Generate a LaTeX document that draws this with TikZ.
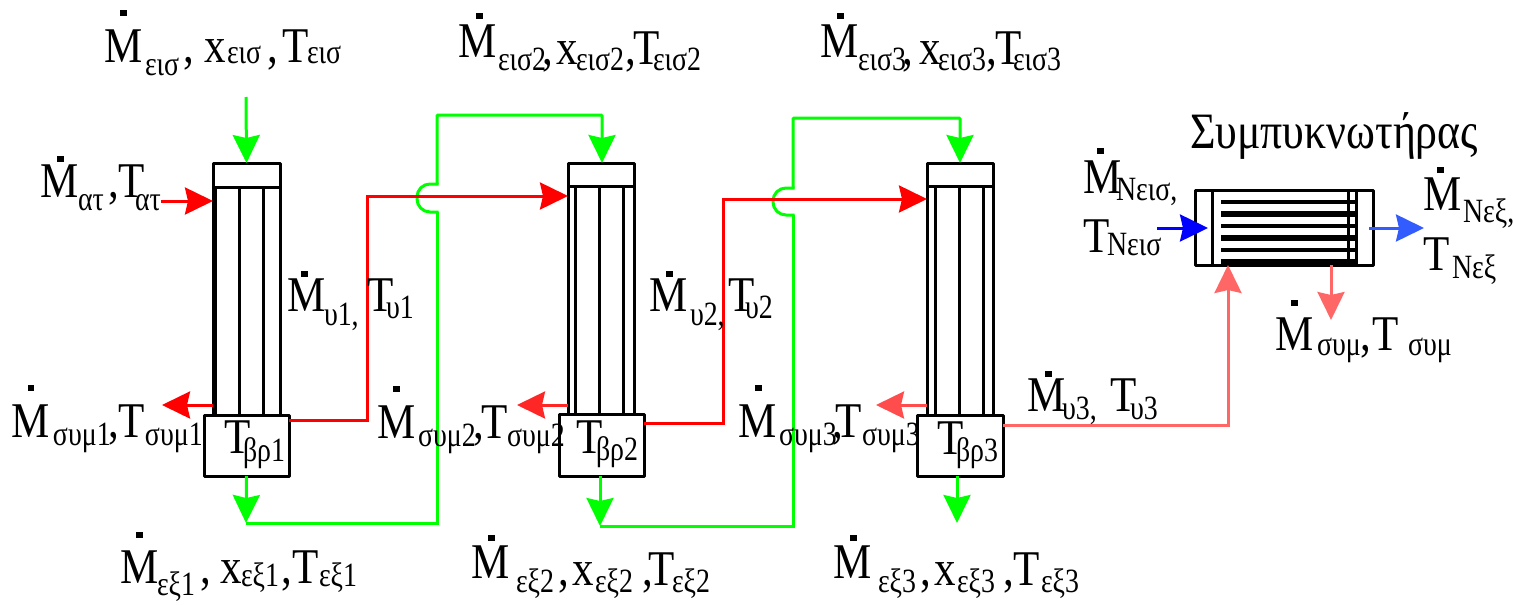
\documentclass[tikz,border=0pt]{standalone}
\usepackage{fontspec}
\setmainfont[FakeStretch=0.86]{Liberation Serif}
\newfontfamily\subfont[FakeStretch=0.82]{Liberation Serif}
\usetikzlibrary{arrows.meta}
\newcommand{\bigt}[3]{\makebox[#1pt][l]{\raisebox{-#2pt}{\fontsize{50}{50}\selectfont #3}}}
\newcommand{\subt}[3]{\makebox[#1pt][l]{\raisebox{-#2pt}{\subfont\fontsize{34}{34}\selectfont #3}}}
\newcommand{\Mdot}[3]{\makebox[0pt][l]{\kern #2pt\raisebox{#1pt}{\rule{6.5pt}{6.5pt}}}\bigt{#3}{0}{M}}
\tikzset{
	lab/.style={anchor=base west, inner sep=0pt, outer sep=0pt},
	vessel/.style={draw=black, line width=3pt, inner sep=0pt, outer sep=0pt, line join=round},
	tube/.style={draw=black, line width=3pt},
	flow/.style={line width=3pt, -{Stealth[length=28pt,width=27pt,inset=3pt]}},
	pipe/.style={line width=3pt, line join=miter}
}
\begin{document}
\begin{tikzpicture}[x=1pt, y=-1pt]
	\useasboundingbox (0,0) rectangle (1513,605);
	%Colonne 1
	\node[vessel, minimum width=67pt, minimum height=24pt] (top1) at (246.5,175) {};
	\node[vessel, minimum width=67pt, minimum height=228pt] (col1) at (246.5,301) {};
	\node[vessel, minimum width=85pt, minimum height=61pt] (reb1) at (246.5,445.5) {};
	\draw[tube, line width=5pt] (214.5,187) -- (214.5,415);
	\draw[tube] (239,187) -- (239,415);
	\draw[tube] (263,187) -- (263,415);
	%Colonne 2
	\node[vessel, minimum width=66pt, minimum height=23pt] (top2) at (601,174.5) {};
	\node[vessel, minimum width=66pt, minimum height=228pt] (col2) at (601,300) {};
	\node[vessel, minimum width=85pt, minimum height=62pt] (reb2) at (601.5,445) {};
	\draw[tube] (575,186) -- (575,414);
	\draw[tube] (599,186) -- (599,414);
	\draw[tube] (623,186) -- (623,414);
	%Colonne 3
	\node[vessel, minimum width=66pt, minimum height=23pt] (top3) at (960,174.5) {};
	\node[vessel, minimum width=66pt, minimum height=229pt] (col3) at (960,300.5) {};
	\node[vessel, minimum width=86pt, minimum height=61pt] (reb3) at (960,445.5) {};
	\draw[tube] (935,186) -- (935,415);
	\draw[tube] (959,186) -- (959,415);
	\draw[tube] (983,186) -- (983,415);
	%Condenseur
	\node[vessel, minimum width=178pt, minimum height=75pt] (cond) at (1284,227.5) {};
	\draw[tube] (1212,190) -- (1212,265);
	\draw[tube] (1348,190) -- (1348,265);
	\draw[tube] (1356,190) -- (1356,265);
	\draw[tube, line width=4pt] (1221,202) -- (1356,202);
	\draw[tube, line width=6pt] (1221,214) -- (1356,214);
	\draw[tube, line width=4pt] (1221,226) -- (1356,226);
	\draw[tube, line width=6pt] (1221,238) -- (1356,238);
	\draw[tube, line width=4pt] (1221,250) -- (1356,250);
	\draw[tube, line width=6pt] (1221,262) -- (1356,262);
	%Extremites libres
	\coordinate (in1) at (246,97);
	\coordinate (air) at (161,201);
	\coordinate (cs1) at (162,405);
	\coordinate (cs2) at (517,405);
	\coordinate (cs3) at (876,405);
	\coordinate (out1) at (246,523);
	\coordinate (out2) at (600,526);
	\coordinate (out3) at (957,523);
	\coordinate (nin) at (1157,228);
	\coordinate (nout) at (1424,228);
	\coordinate (csum) at (1331,320);
	%Aretes vertes
	\draw[flow, green] (in1) -- (top1.north);
	\draw[flow, green] (reb1.south) -- (out1);
	\draw[flow, green] (reb2.south -| out2) -- (out2);
	\draw[flow, green] (reb3.south -| out3) -- (out3);
	\draw[pipe, green] (out1) -- (437,523) -- (437,212);
	\draw[pipe, green, rounded corners=13pt] (438.5,212) -- (417,212) -- (417,184) -- (438.5,184);
	\draw[flow, green, rounded corners=1pt] (437,184) -- (437,115) -- (602,115) -- (top2.north -| 602,0);
	\draw[pipe, green] (out2) -- (793,526) -- (793,215);
	\draw[pipe, green, rounded corners=13pt] (794.5,215) -- (773,215) -- (773,188) -- (794.5,188);
	\draw[flow, green, rounded corners=1pt] (793,188) -- (793,118) -- (960,118) -- (top3.north);
	%Aretes rouges
	\draw[flow, red] (air) -- (top1.south west |- air);
	\draw[flow, red] (col1.south west |- cs1) -- (cs1);
	\draw[flow, red!85!white] (col2.south west |- cs2) -- (cs2);
	\draw[flow, red!70!white] (col3.south west |- cs3) -- (cs3);
	\draw[flow, red] (reb1.east |- 0,420) -- (367,420) -- (367,196) -- (col2.west |- 0,196);
	\draw[flow, red] (reb2.east |- 0,423) -- (723,423) -- (723,199) -- (col3.west |- 0,199);
	\draw[flow, red!60!white] (reb3.east |- 0,425) -- (1228,425) -- (cond.south -| 1228,0);
	\draw[flow, red!60!white] (cond.south -| csum) -- (csum);
	%Condenseur, eau
	\draw[flow, blue] (nin) -- (1208,228);
	\draw[flow, blue!80!cyan!80!white] (1369,228) -- (nout);
	%Etiquettes
	\node[lab] (lei1) at (104,62) {\Mdot{46}{16}{41}\subt{38}{13}{εισ}\bigt{22}{0}{,}\bigt{22}{0}{x}\subt{40}{1}{εισ}\bigt{16}{0}{,}\bigt{24}{0}{T}\subt{36}{1}{εισ}};
	\node[lab] (lei2) at (458,57) {\Mdot{38}{18}{40}\subt{44}{13}{εισ2}\bigt{15}{7}{,}\bigt{19}{7}{x}\subt{49}{13}{εισ2}\bigt{8}{7}{,}\bigt{20}{7}{T}\subt{47}{13}{εισ2}};
	\node[lab] (lei3) at (820,57) {\Mdot{38}{17}{38}\subt{44}{13}{εισ3}\bigt{18}{7}{,}\bigt{18}{7}{x}\subt{48}{13}{εισ3}\bigt{9}{7}{,}\bigt{18}{7}{T}\subt{49}{13}{εισ3}};
	\node[lab] (lat) at (40,197) {\Mdot{35}{17}{38}\subt{30}{13}{ατ}\bigt{11}{0}{,}\bigt{16}{0}{T}\subt{30}{13}{ατ}};
	\node[lab] (lsu1) at (11,437) {\Mdot{46}{17}{42}\subt{55}{8}{συμ1}\bigt{11}{0}{,}\bigt{26}{0}{T}\subt{56}{8}{συμ1}};
	\node[lab] (lsu2) at (377,438) {\Mdot{46}{16}{41}\subt{55}{8}{συμ2}\bigt{8}{0}{,}\bigt{26}{0}{T}\subt{56}{8}{συμ2}};
	\node[lab] (lsu3) at (738,437) {\Mdot{46}{17}{41}\subt{53}{8}{συμ3}\bigt{3}{0}{,}\bigt{27}{0}{T}\subt{56}{8}{συμ3}};
	\node[lab] (lu1) at (287,311) {\Mdot{34}{14}{37}\subt{43}{14}{υ1,}\bigt{19}{0}{T}\subt{26}{7}{υ1}};
	\node[lab] (lu2) at (649,311) {\Mdot{34}{17}{41}\subt{38}{14}{υ2,}\bigt{17}{0}{T}\subt{30}{7}{υ2}};
	\node[lab] (lu3) at (1027,411) {\Mdot{34}{18}{35}\subt{48}{8}{υ3,}\bigt{20}{0}{T}\subt{28}{8}{υ3}};
	\node[lab] (lb1) at (224,453) {\bigt{19}{0}{T}\subt{36}{8}{βρ1}};
	\node[lab] (lb2) at (576,453) {\bigt{20}{0}{T}\subt{36}{7}{βρ2}};
	\node[lab] (lb3) at (937,454) {\bigt{19}{0}{T}\subt{36}{7}{βρ3}};
	\node[lab] (lex1) at (120,583) {\Mdot{45}{16}{37}\subt{43}{12}{εξ1}\bigt{21}{0}{,}\bigt{20}{0}{x}\subt{40}{3}{εξ1}\bigt{12}{0}{,}\bigt{26}{0}{T}\subt{36}{3}{εξ1}};
	\node[lab] (lex2) at (471,578) {\Mdot{37}{17}{45}\subt{42}{14}{εξ2}\bigt{15}{7}{,}\bigt{22}{7}{x}\subt{47}{14}{εξ2}\bigt{6}{7}{,}\bigt{24}{7}{T}\subt{40}{14}{εξ2}};
	\node[lab] (lex3) at (833,578) {\Mdot{37}{17}{45}\subt{42}{14}{εξ3}\bigt{15}{7}{,}\bigt{22}{7}{x}\subt{46}{14}{εξ3}\bigt{11}{7}{,}\bigt{27}{7}{T}\subt{36}{14}{εξ3}};
	\node[lab] (ltitle) at (1190,148) {\fontsize{51}{51}\selectfont Συμπυκνωτήρας};
	\node[lab] (lnin) at (1083,193) {\Mdot{39}{14}{33}\subt{60}{7}{Νεισ,}};
	\node[lab] (ltnin) at (1083,252) {\bigt{24}{0}{T}\subt{54}{3}{Νεισ}};
	\node[lab] (lnex) at (1423,210) {\Mdot{37}{14}{40}\subt{48}{12}{Νεξ,}};
	\node[lab] (ltnex) at (1423,270) {\bigt{29}{0}{T}\subt{48}{8}{Νεξ}};
	\node[lab] (lsum) at (1275,350) {\Mdot{44}{16}{42}\subt{43}{5}{συμ}\bigt{12}{0}{,}\bigt{36}{0}{T}\subt{46}{5}{συμ}};
\end{tikzpicture}
\end{document}
